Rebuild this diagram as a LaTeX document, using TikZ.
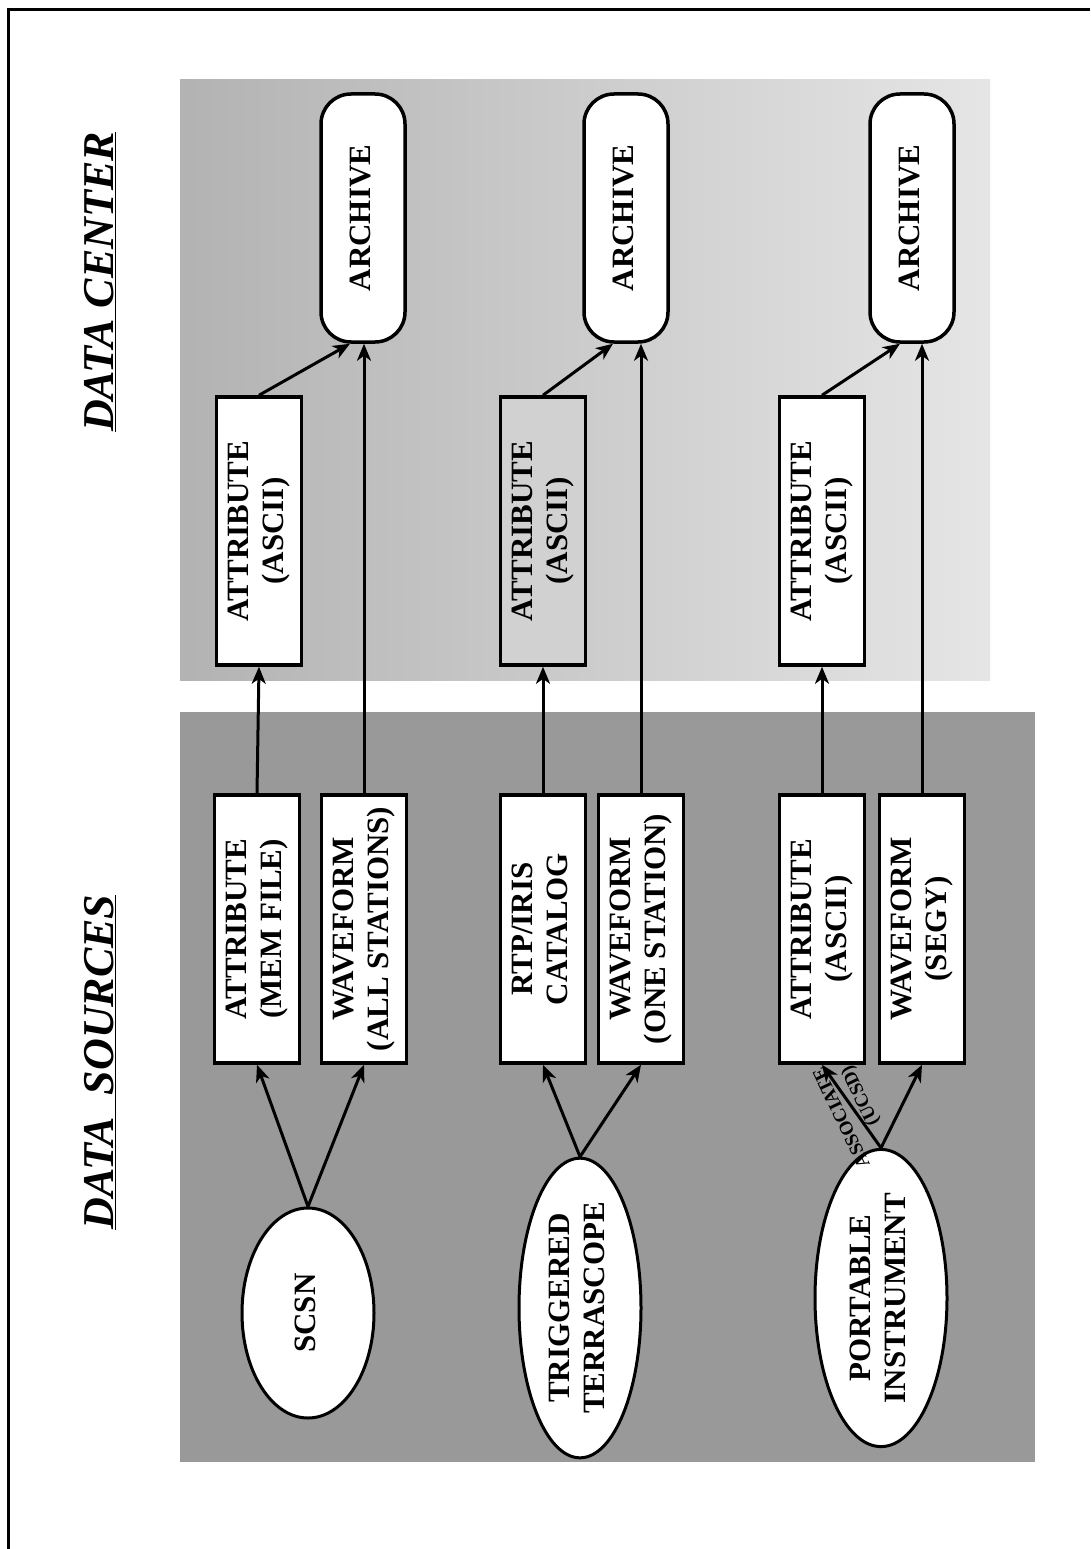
\documentclass[tikz,border=0pt]{standalone}
\usepackage{fontspec}
\setmainfont{Liberation Serif}
\usetikzlibrary{shapes.geometric,arrows.meta,calc}

% text set sideways, reading upwards
\newcommand\vtext[1]{\rotatebox{90}{\begin{tabular}{@{}c@{}}#1\end{tabular}}}

\tikzset{
  boxtext/.style={font=\fontsize{31}{35}\selectfont\bfseries},
  recbox/.style={draw, line width=3.5pt, fill=white, minimum width=85pt,
    minimum height=268pt, inner sep=0pt, boxtext},
  archbox/.style={draw, line width=3.5pt, fill=white, minimum width=84pt,
    minimum height=248pt, rounded corners=30pt, inner sep=0pt, boxtext},
  srcell/.style={draw, ellipse, line width=3pt, fill=white, inner sep=0pt, boxtext},
  heading/.style={rotate=90, font=\fontsize{44}{50}\selectfont\bfseries\itshape},
  arr/.style={line width=3pt, -{Stealth[length=17pt,width=14pt,inset=5pt]}},
  tag/.style={font=\fontsize{19}{22}\selectfont\bfseries, inner sep=0pt, rotate=115.6},
}

\begin{document}
\begin{tikzpicture}[x=1pt,y=-1pt]
\useasboundingbox (0,0) rectangle (1090,1549);
\fill[white] (0,0) rectangle (1090,1549);

% page frame
\draw[line width=3pt] (8,1549) -- (8,10) -- (1090,10);

% shaded areas
\shade[left color=black!30, right color=black!10] (180,80) rectangle (990,680);
\fill[black!40] (180,712) rectangle (1035,1462);

% headings
\node[heading] (hcenter)  at (100,282)  {\underline{DATA CENTER}};
\node[heading] (hsources) at (100,1062) {\underline{DATA\enspace SOURCES}};

% ---- SCSN ----
\node[srcell, minimum width=132pt, minimum height=210pt] (scsn) at (308,1313) {\vtext{SCSN}};
\node[recbox] (sa1) at (257,929) {\vtext{ATTRIBUTE\\(MEM FILE)}};
\node[recbox] (sw1) at (364,929) {\vtext{WAVEFORM\\(ALL STATIONS)}};
\node[recbox] (da1) at (259,531) {\vtext{ATTRIBUTE\\(ASCII)}};
\node[archbox] (ar1) at (363,218) {\vtext{ARCHIVE}};

% ---- Triggered Terrascope ----
\node[srcell, minimum width=122pt, minimum height=225pt] (trig) at (580,1308) {\vtext{TRIGGERED\\TERRASCOPE}};
\node[recbox] (sa2) at (543,929) {\vtext{RTP/IRIS\\CATALOG}};
\node[recbox] (sw2) at (641,929) {\vtext{WAVEFORM\\(ONE STATION)}};
\node[recbox, fill=black!18] (da2) at (543,531) {\vtext{ATTRIBUTE\\(ASCII)}};
\node[archbox] (ar2) at (626,218) {\vtext{ARCHIVE}};

% ---- Portable Instrument ----
\node[srcell, minimum width=132pt, minimum height=212pt] (port) at (881,1298) {\vtext{PORTABLE\\INSTRUMENT}};
\node[recbox] (sa3) at (822,929) {\vtext{ATTRIBUTE\\(ASCII)}};
\node[recbox] (sw3) at (922,929) {\vtext{WAVEFORM\\(SEGY)}};
\node[recbox] (da3) at (822,531) {\vtext{ATTRIBUTE\\(ASCII)}};
\node[archbox] (ar3) at (912,218) {\vtext{ARCHIVE}};

% ---- connectors ----
\draw[arr] (scsn.north) -- (sa1.south);
\draw[arr] (scsn.north) -- (sw1.south);
\draw[arr] (sa1.north) -- (da1.south);
\draw[arr] (sw1.north) -- (sw1.north |- ar1.south);
\draw[arr] (da1.north) -- ($(ar1.south)+(-13,0)$);

\draw[arr] (trig.north) -- (sa2.south);
\draw[arr] (trig.north) -- (sw2.south);
\draw[arr] (sa2.north) -- (da2.south);
\draw[arr] (sw2.north) -- (sw2.north |- ar2.south);
\draw[arr] (da2.north) -- ($(ar2.south)+(-13,0)$);

\draw[arr] (port.north) -- (sa3.south);
\draw[arr] (port.north) -- (sw3.south);
\draw[arr] (sa3.north) -- (da3.south);
\draw[arr] (sw3.north) -- (sw3.north |- ar3.south);
\draw[arr] (da3.north) -- ($(ar3.south)+(-12,0)$);

% labels on both sides of the portable-instrument attribute link
\node[tag] (lassoc) at ($(port.north)!0.44!(sa3.south)+(-14,6.5)$) {ASSOCIATE};
\node[tag] (lucsd)  at ($(port.north)!0.56!(sa3.south)+(13,-6)$) {(UCSD)};
\end{tikzpicture}
\end{document}
